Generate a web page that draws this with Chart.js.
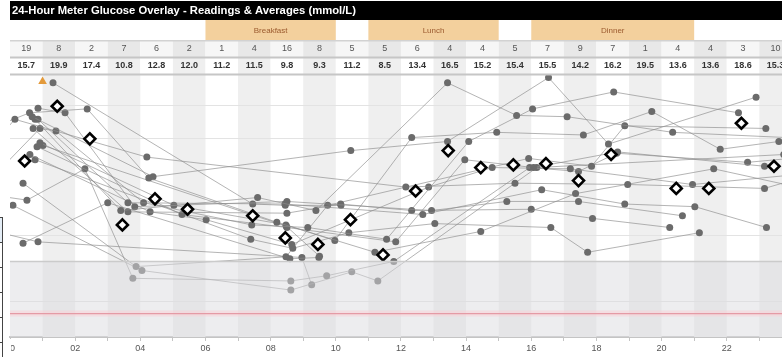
<!DOCTYPE html>
<html>
<head>
<meta charset="utf-8">
<script src="https://cdn.jsdelivr.net/npm/chart.js@4"></script>
<style>
  html, body { margin: 0; padding: 0; overflow: hidden; background: #fff; width: 782px; height: 357px; }
  #wrap { position: absolute; left: 0; top: 0; width: 800px; height: 357px; }
  #sideTable { position: absolute; left: -40px; top: 217px; width: 42px; border-right: 1.5px solid #444; }
  #sideTable div { height: 24px; border-top: 1.5px solid #444; }
  #sideTable div:first-child { background: #e4edf6; }
  #tickCover { position: absolute; left: 4px; top: 339px; width: 7px; height: 18px; background: #fff; }
</style>
</head>
<body>
<div id="wrap"><canvas id="c" width="800" height="357"></canvas></div>
<div id="sideTable"><div></div><div></div><div></div><div></div><div></div><div></div></div>
<div id="tickCover"></div>
<script>
// ---- data ----
const titleText = '24-Hour Meter Glucose Overlay - Readings & Averages (mmol/L)';
const hourTicks = ['00', '02', '04', '06', '08', '10', '12', '14', '16', '18', '20', '22'];
const readingCounts = [19, 8, 2, 7, 6, 2, 1, 4, 16, 8, 5, 5, 6, 4, 4, 5, 7, 9, 7, 1, 4, 4, 3, 10];
const hourlyAverages = [15.7, 19.9, 17.4, 10.8, 12.8, 12.0, 11.2, 11.5, 9.8, 9.3, 11.2, 8.5,
                        13.4, 16.5, 15.2, 15.4, 15.5, 14.2, 16.2, 19.5, 13.6, 13.6, 18.6, 15.3];
const mealNames = ['Breakfast', 'Lunch', 'Dinner'];
const mealStartHours = [6, 11, 16];
const mealEndHours = [10, 15, 21];
const hypoLimit = 4.0;
const lowBandTop = 8.0;
const referenceLevels = [20, 17.5, 10, 5];
const highReadings = [[1.0, 21.8]];

// one array per day: [hour of day, mmol/L]
const day01 = [[-0.35, 17.5], [0.15, 18.9], [4.2, 16.0], [12.15, 13.7], [15.5, 14.0], [18.96, 13.9], [23.16, 13.6], [24.4, 14.5]];
const day02 = [[-0.3, 18.5], [0.6, 19.4], [2.37, 19.7], [4.26, 14.4], [8.19, 11.0], [11.2, 8.7], [14.45, 10.3], [17.36, 13.2], [21.6, 15.1], [23.8, 13.9]];
const day03 = [[0.68, 19.1], [4.39, 14.5], [10.46, 16.5], [13.43, 17.2], [16.53, 22.1], [18.37, 17.0], [22.9, 20.6]];
const day04 = [[0.77, 18.9], [3.4, 11.9], [7.6, 12.9], [9.39, 11.9], [13.43, 21.7], [15.55, 19.2], [17.1, 19.1], [20.34, 17.9], [23.85, 17.5]];
const day05 = [[0.86, 18.9], [3.62, 12.5], [8.44, 12.4], [12.67, 11.6], [16.32, 13.5], [18.87, 12.4], [21.02, 12.2], [23.22, 10.6]];
const day06 = [[0.86, 19.75], [1.69, 19.4], [3.83, 12.2], [8.5, 12.6], [12.94, 11.9], [15.25, 12.6], [17.45, 12.6], [20.64, 11.5]];
const day07 = [[0.71, 18.2], [3.62, 11.8], [8.5, 11.7], [10.15, 12.4], [12.33, 11.9], [16.0, 12.0], [17.88, 11.3], [20.25, 10.6]];
const day08 = [[-0.4, 14.8], [0.92, 18.2], [1.41, 18.0], [4.1, 12.5], [7.42, 10.8], [9.14, 10.6], [11.56, 9.7], [14.08, 17.2], [16.04, 19.7], [18.53, 21.0], [22.36, 19.4]];
const day09 = [[0.92, 17.1], [5.03, 12.3], [8.47, 10.8], [9.97, 9.6], [12.33, 17.5], [14.94, 17.9], [17.6, 17.7], [19.7, 19.5], [21.8, 16.6], [23.6, 17.2]];
const day10 = [[0.83, 16.8], [5.28, 11.6], [8.5, 10.6], [11.84, 9.5], [13.96, 15.8], [16.07, 15.2], [18.65, 16.4], [23.16, 15.3]];
const day11 = [[0.61, 16.2], [4.3, 11.8], [6.02, 11.2], [8.65, 9.3], [12.85, 13.7], [14.8, 15.2], [17.2, 15.1], [20.95, 13.9], [23.9, 14.6]];
const day12 = [[0.77, 15.8], [7.39, 9.7], [8.68, 9.0], [10.4, 10.2], [13.04, 10.9], [16.6, 10.6], [17.73, 8.7], [21.16, 10.2]];
const day13 = [[0.40, 14.0], [3.87, 7.6], [8.47, 8.35], [9.75, 12.3], [15.92, 15.9], [17.85, 15.3], [18.87, 18.4], [23.2, 18.2]];
const day14 = [[-0.3, 13.0], [0.52, 12.7], [2.3, 15.1], [3.77, 6.7], [8.62, 6.5], [9.72, 6.9], [11.78, 8.0], [15.95, 15.2], [17.45, 14.9], [18.62, 16.3], [22.64, 15.6], [23.95, 15.9]];
const day15 = [[-0.25, 11.5], [0.09, 12.3], [4.05, 7.3], [8.62, 5.8], [10.49, 7.2], [11.29, 6.5], [16.17, 15.2], [23.75, 16.2]];
const day16 = [[0.40, 9.4], [3.0, 12.5], [8.59, 8.2], [9.48, 8.3]];
const day17 = [[-0.3, 10.2], [0.86, 9.5], [8.96, 8.3], [9.26, 6.2]];
const day18 = [[1.32, 21.7], [7.45, 12.4], [8.45, 12.3], [10.16, 12.3]];
const day19 = [[1.01, 16.9], [8.48, 10.7], [9.5, 8.4]];

const days = [day01, day02, day03, day04, day05, day06, day07, day08, day09, day10,
              day11, day12, day13, day14, day15, day16, day17, day18, day19];

// ---- drawing helpers ----
const FONT = '"Liberation Sans", Arial, sans-serif';

const backdrop = {
  id: 'backdrop',
  beforeDraw(chart) {
    const { ctx } = chart;
    ctx.save();
    ctx.fillStyle = '#fff';
    ctx.fillRect(0, 0, chart.width, chart.height);
    ctx.restore();
  },
  beforeDatasetsDraw(chart) {
    const { ctx, chartArea: a, scales: { x, y } } = chart;
    ctx.save();
    for (let h = 1; h < 24; h += 2) {
      const x0 = x.getPixelForValue(h), x1 = x.getPixelForValue(h + 1);
      ctx.fillStyle = '#efefef';
      ctx.fillRect(x0, a.top, x1 - x0, a.bottom - a.top);
    }
    ctx.strokeStyle = '#e3e3e3';
    ctx.lineWidth = 1;
    referenceLevels.forEach(v => {
      const py = Math.round(y.getPixelForValue(v)) + 0.5;
      ctx.beginPath(); ctx.moveTo(a.left, py); ctx.lineTo(a.right, py); ctx.stroke();
    });
    ctx.restore();
  },
  afterDatasetsDraw(chart) {
    const { ctx, chartArea: a, scales: { y } } = chart;
    ctx.save();
    const yb = y.getPixelForValue(lowBandTop);
    ctx.fillStyle = 'rgba(219,219,223,0.5)';
    ctx.fillRect(a.left, yb, a.right - a.left, a.bottom - yb);
    ctx.strokeStyle = '#cbcbcb';
    ctx.lineWidth = 1.5;
    ctx.beginPath(); ctx.moveTo(a.left, yb); ctx.lineTo(a.right, yb); ctx.stroke();
    const yh = y.getPixelForValue(hypoLimit);
    ctx.fillStyle = 'rgba(250,210,215,0.55)';
    ctx.fillRect(a.left, yh - 3, a.right - a.left, 6);
    ctx.strokeStyle = '#e49aa5';
    ctx.lineWidth = 1.2;
    ctx.beginPath(); ctx.moveTo(a.left, yh); ctx.lineTo(a.right, yh); ctx.stroke();
    ctx.restore();
  }
};

const header = {
  id: 'header',
  afterDraw(chart) {
    const { ctx, chartArea: a, scales: { x } } = chart;
    const W = chart.width;
    const px = h => x.getPixelForValue(h);
    ctx.save();

    // title bar
    ctx.fillStyle = '#000';
    ctx.fillRect(a.left, 1, W - a.left, 19);
    ctx.font = 'bold 11.5px ' + FONT;
    const tw = ctx.measureText(titleText).width;
    const sx = Math.min(1, 344 / tw);
    ctx.save();
    ctx.translate(a.left + 2, 11);
    ctx.scale(sx, 1);
    ctx.fillStyle = '#fff';
    ctx.textBaseline = 'middle';
    ctx.textAlign = 'left';
    ctx.fillText(titleText, 0, 0);
    ctx.restore();

    // meal row
    ctx.fillStyle = '#fff';
    ctx.fillRect(a.left, 20, W - a.left, 20);
    mealNames.forEach((name, i) => {
      const x0 = px(mealStartHours[i]), x1 = px(mealEndHours[i]);
      ctx.fillStyle = '#f3d09d';
      ctx.fillRect(x0, 20, x1 - x0, 20);
      ctx.fillStyle = '#9b5a2e';
      ctx.font = '8px ' + FONT;
      ctx.textAlign = 'center';
      ctx.textBaseline = 'middle';
      ctx.fillText(name, (x0 + x1) / 2, 30.5);
    });

    // count and average rows
    for (let h = 0; h < 24; h++) {
      const x0 = px(h), x1 = px(h + 1);
      ctx.fillStyle = h % 2 ? '#e8e8e8' : '#f6f6f6';
      ctx.fillRect(x0, 41, x1 - x0, 16);
      ctx.fillStyle = h % 2 ? '#efefef' : '#ffffff';
      ctx.fillRect(x0, 58, x1 - x0, 16);
    }
    ctx.fillStyle = '#d2d2d2';
    ctx.fillRect(a.left, 40, W - a.left, 1.5);
    ctx.fillStyle = '#c6c6c6';
    ctx.fillRect(a.left, 56.5, W - a.left, 2);
    ctx.fillRect(a.left, 73.5, W - a.left, 2);

    ctx.textAlign = 'center';
    ctx.textBaseline = 'middle';
    for (let h = 0; h < 24; h++) {
      const cx = (px(h) + px(h + 1)) / 2;
      ctx.fillStyle = '#555';
      ctx.font = '9px ' + FONT;
      ctx.fillText(String(readingCounts[h]), cx, 48.5);
      ctx.fillStyle = '#333';
      ctx.font = 'bold 9px ' + FONT;
      ctx.fillText(hourlyAverages[h].toFixed(1), cx, 66);
    }
    ctx.restore();
  }
};

// ---- chart ----
const dayDatasets = days.map(d => ({
  data: d.map(([h, v]) => ({ x: h, y: v })),
  showLine: true,
  borderColor: 'rgba(140,140,140,0.65)',
  borderWidth: 1,
  pointRadius: 3.5,
  pointHoverRadius: 3.5,
  pointBackgroundColor: '#6b6b6b',
  pointBorderWidth: 0,
  order: 3
}));

const averageDataset = {
  data: hourlyAverages
    .map((v, h) => (readingCounts[h] > 1 ? { x: h + 0.45, y: v } : null))
    .filter(Boolean),
  showLine: false,
  pointStyle: 'rectRot',
  pointRadius: 5.5,
  pointHoverRadius: 5.5,
  pointBorderWidth: 2.6,
  pointBorderColor: '#000',
  pointBackgroundColor: '#fff',
  order: 0
};

const highDataset = {
  data: highReadings.map(([h, v]) => ({ x: h, y: v })),
  showLine: false,
  pointStyle: 'triangle',
  pointRadius: 5,
  pointHoverRadius: 5,
  pointBorderWidth: 0,
  pointBackgroundColor: '#e39a3b',
  order: 1
};

new Chart(document.getElementById('c'), {
  type: 'scatter',
  data: { datasets: [averageDataset, highDataset, ...dayDatasets] },
  options: {
    responsive: false,
    animation: false,
    events: [],
    layout: { padding: { left: 10, right: 7.6, top: 75, bottom: 0 } },
    plugins: { legend: { display: false }, tooltip: { enabled: false } },
    scales: {
      x: {
        type: 'linear',
        min: 0,
        max: 24,
        afterFit: s => { s.height = 20; },
        border: { display: true, color: '#c4c4c4', width: 2 },
        grid: { drawOnChartArea: false, drawTicks: true, tickLength: 4, color: '#c4c4c4' },
        ticks: {
          stepSize: 1,
          autoSkip: false,
          maxRotation: 0,
          padding: 2,
          color: '#555',
          font: { family: 'Liberation Sans, Arial, sans-serif', size: 9 },
          callback: v => (v % 2 === 0 && v < 24 ? hourTicks[v / 2] : '')
        }
      },
      y: {
        display: false,
        min: 2.2,
        max: 22.3
      }
    }
  },
  plugins: [backdrop, header]
});
</script>
</body>
</html>
